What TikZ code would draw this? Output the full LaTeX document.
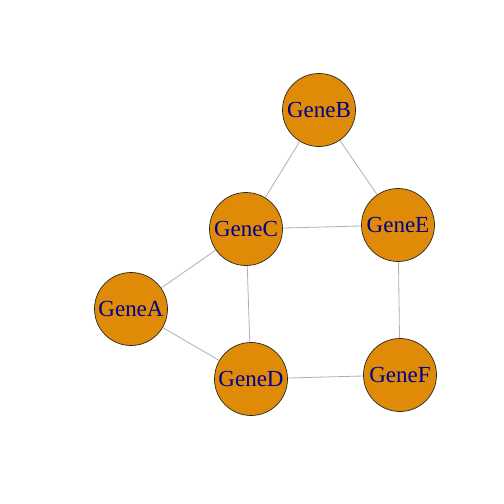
\documentclass[tikz,border=0pt]{standalone}
\usepackage{fontspec}
\setmainfont{Liberation Serif}
\begin{document}
\begin{tikzpicture}[x=1pt,y=-1pt,
  gene/.style={circle,draw=black!85,line width=0.7pt,fill=geneorange,minimum size=73pt,inner sep=0pt,text=darkbluetxt,font=\fontsize{23}{25}\selectfont},
  edge/.style={draw=edgegray,line width=0.8pt}]
\definecolor{geneorange}{HTML}{E08B08}
\definecolor{darkbluetxt}{HTML}{00008B}
\definecolor{edgegray}{HTML}{B0B0B0}
\useasboundingbox[fill=white] (0,0) rectangle (504,504);
\node[gene] (B) at (319,110) {GeneB};
\node[gene] (C) at (246,229) {GeneC};
\node[gene] (E) at (398,225) {GeneE};
\node[gene] (A) at (131,309) {GeneA};
\node[gene] (D) at (251,379) {GeneD};
\node[gene] (F) at (400,375) {GeneF};
\begin{scope}[on background layer/.try]
\end{scope}
\path[edge] (B) -- (C);
\path[edge] (B) -- (E);
\path[edge] (C) -- (E);
\path[edge] (C) -- (A);
\path[edge] (C) -- (D);
\path[edge] (A) -- (D);
\path[edge] (D) -- (F);
\path[edge] (E) -- (F);
\end{tikzpicture}
\end{document}
